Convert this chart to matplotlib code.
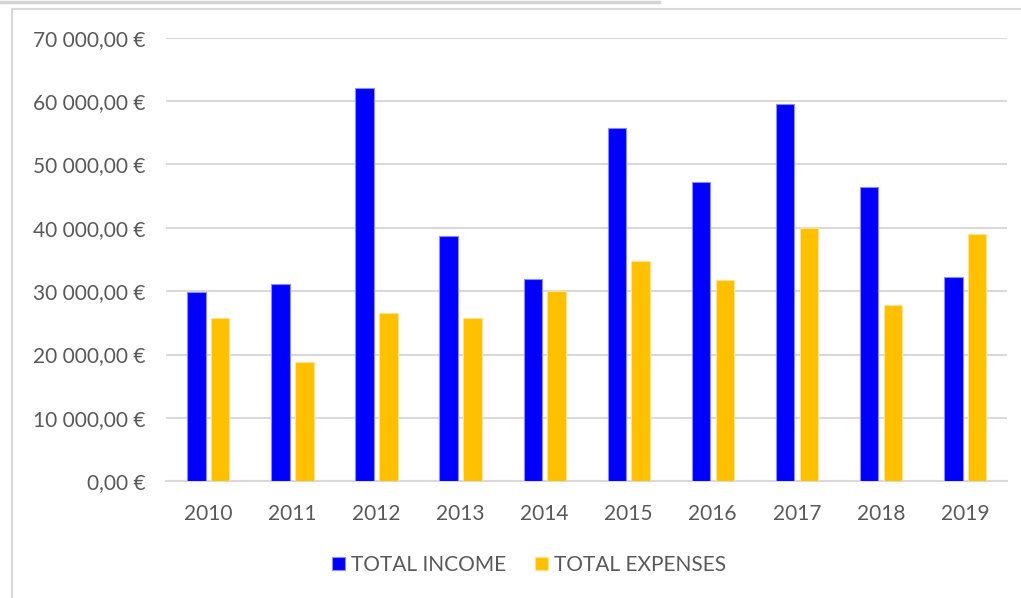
import matplotlib
matplotlib.use("Agg")
import matplotlib.pyplot as plt
import numpy as np
from matplotlib.lines import Line2D
from matplotlib.ticker import FuncFormatter, MultipleLocator

years = ["2010", "2011", "2012", "2013", "2014", "2015", "2016", "2017", "2018", "2019"]
total_income = [29800, 31100, 62000, 38700, 32000, 55700, 47200, 59500, 46500, 32300]
total_expenses = [25700, 18800, 26500, 25700, 30100, 34800, 31800, 39900, 27800, 39100]
series_names = ["TOTAL INCOME", "TOTAL EXPENSES"]

plt.rcParams['font.family'] = ['Lato', 'DejaVu Sans']
text_color = '#595959'
grid_color = '#d9d9d9'

W, H = 1021, 598
fig = plt.figure(figsize=(W / 100, H / 100), dpi=100)
ax = fig.add_axes([166 / W, 1 - 481.3 / H, (1007 - 166) / W, (481.3 - 37.7) / H])

x = np.arange(len(years))
bw = 0.22
ax.bar(x - 0.138, total_income, width=bw, color='#0000ff', edgecolor='#8c8cff',
       linewidth=0.8, label=series_names[0], zorder=3)
ax.bar(x + 0.145, total_expenses, width=bw, color='#ffc000', edgecolor='#ffe28a',
       linewidth=0.8, label=series_names[1], zorder=3)

ax.set_xlim(-0.5, len(years) - 0.5)
ax.set_ylim(0, 70000)
ax.yaxis.set_major_locator(MultipleLocator(10000))
ax.yaxis.set_major_formatter(FuncFormatter(
    lambda v, p: f"{int(round(v)):,}".replace(',', ' ') + ",00 €"))
ax.set_xticks(x)
ax.set_xticklabels(years)

ax.grid(axis='y', color=grid_color, linewidth=1.5, zorder=0)
ax.set_axisbelow(True)
for s in ['top', 'right', 'left']:
    ax.spines[s].set_visible(False)
ax.spines['bottom'].set_color(grid_color)
ax.spines['bottom'].set_linewidth(1.5)
ax.tick_params(axis='both', length=0, labelsize=15, labelcolor=text_color)
ax.tick_params(axis='y', pad=15)
ax.tick_params(axis='x', pad=16)

leg = fig.legend(loc='center', bbox_to_anchor=(529 / W, 1 - 565 / H), ncol=2,
                 frameon=False, fontsize=15, handlelength=0.63, handleheight=0.63,
                 handletextpad=0.3, columnspacing=1.35)
for t in leg.get_texts():
    t.set_color(text_color)

# outer borders
fig.add_artist(Line2D([0, 659 / W], [1 - 1.5 / H, 1 - 1.5 / H], color='#d4d4d4',
                      linewidth=2.5, transform=fig.transFigure))
fig.add_artist(Line2D([12 / W, 1], [1 - 9 / H, 1 - 9 / H], color='#d9d9d9',
                      linewidth=1.5, transform=fig.transFigure))
fig.add_artist(Line2D([12 / W, 12 / W], [1 - 9 / H, 0], color='#d9d9d9',
                      linewidth=1.5, transform=fig.transFigure))

fig.savefig('out.png', dpi=100)
